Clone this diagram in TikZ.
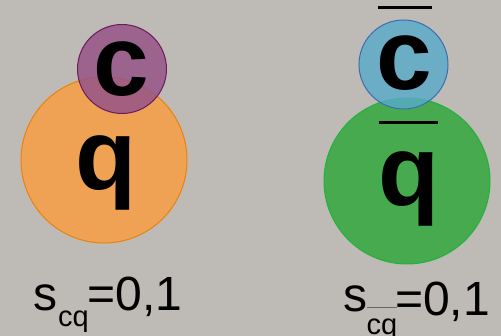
\documentclass[tikz,border=0pt]{standalone}
\usepackage{fontspec}
\setmainfont{Liberation Sans}
\definecolor{bgc}{HTML}{BEBAB5}
\definecolor{orfill}{HTML}{EFA254}
\definecolor{ordraw}{HTML}{E8830F}
\definecolor{pufill}{HTML}{955487}
\definecolor{pudraw}{HTML}{6A1C5E}
\definecolor{blfill}{HTML}{58AACB}
\definecolor{bldraw}{HTML}{3A6DB4}
\definecolor{grfill}{HTML}{48AA4E}
\definecolor{grdraw}{HTML}{1FB23E}
\tikzset{
  big/.style={font=\fontsize{100}{100}\selectfont\bfseries, inner sep=0pt, anchor=base, text=black},
  lab/.style={font=\fontsize{48}{48}\selectfont, inner sep=0pt, anchor=base west, text=black},
  sub/.style={font=\fontsize{29}{29}\selectfont, inner sep=0pt, anchor=base west, text=black},
  barline/.style={line width=3pt, black},
}
\begin{document}
\begin{tikzpicture}[x=1pt,y=-1pt]
\fill[bgc] (0,0) rectangle (501,336);
\useasboundingbox (0,0) rectangle (501,336);
% left pair
\draw[ordraw, fill=orfill, line width=1pt] (104,160) circle[radius=83];
\draw[pudraw, fill=pufill, fill opacity=0.85, line width=1pt] (122,69) circle[radius=44.5];
\node[big] (c1) at (121.5,96) {c};
\node[big] (q1) at (106,190) {q};
% right pair
\draw[grdraw, fill=grfill, line width=1pt] (407,181) circle[radius=83];
\draw[bldraw, fill=blfill, fill opacity=0.8, line width=1pt] (403.5,64.5) circle[radius=44.5];
\node[big] (c2) at (404.5,90) {c};
\node[big] (q2) at (409,206) {q};
\draw[barline] (378,7.5) -- (432,7.5);
\draw[barline] (379,122.5) -- (438,122.5);
% labels
\node[lab] (s1) at (33.5,311) {s};
\node[sub] (cq1) at (s1.base east) [yshift=-16pt] {cq};
\node[lab] (v1) at (87.5,311) {=0,1};
\node[lab] (s2) at (343.5,312) {s};
\node[sub] (cq2) at (366.5,335) {cq};
\draw[gray!80!black, line width=1pt] (367,308) -- (397,308);
\node[lab] (v2) at (395,316) {=0,1};
\end{tikzpicture}
\end{document}
